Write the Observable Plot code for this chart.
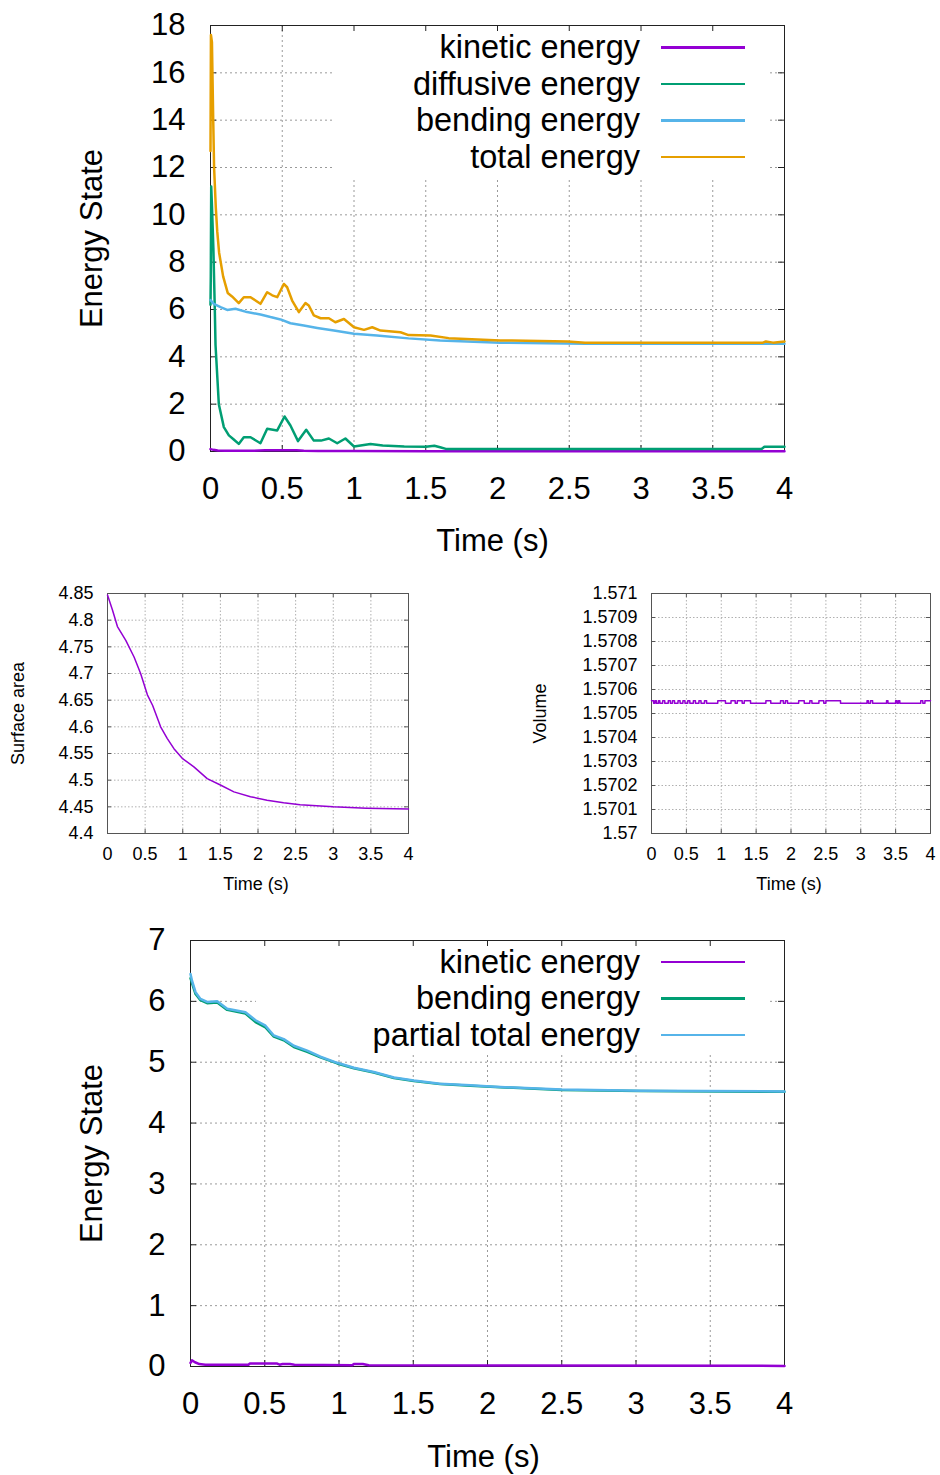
<!DOCTYPE html>
<html><head><meta charset="utf-8">
<script src="https://cdn.jsdelivr.net/npm/d3@7"></script>
<script src="https://cdn.jsdelivr.net/npm/@observablehq/plot@0.6"></script>
<style>
body{margin:0;background:#fff;}
#root{position:relative;width:940px;height:1475px;overflow:hidden;background:#fff;font-family:"Liberation Sans",Arial,sans-serif;}
.layer{position:absolute;}
.legend{position:absolute;background:#fff;}
.lrow{position:absolute;left:0;right:0;display:flex;align-items:center;justify-content:flex-end;color:#000;}
.lrow span.t{position:relative;white-space:nowrap;}
.lrow span.s{display:inline-block;}
</style></head><body><div id="root"></div>
<script>
// ---------- tick labels ----------
const xTicks = [0, 0.5, 1, 1.5, 2, 2.5, 3, 3.5, 4];
const energyTicks = [0, 2, 4, 6, 8, 10, 12, 14, 16, 18];
const energy2Ticks = [0, 1, 2, 3, 4, 5, 6, 7];
const areaTicks = [4.4, 4.45, 4.5, 4.55, 4.6, 4.65, 4.7, 4.75, 4.8, 4.85];
const volumeTicks = [1.57, 1.5701, 1.5702, 1.5703, 1.5704, 1.5705, 1.5706, 1.5707, 1.5708, 1.5709, 1.571];

// ---------- top chart: energies ----------
const kinT = [0, 0.02, 0.05, 0.1, 0.3, 0.38, 0.6, 0.65, 0.75, 1.0, 1.5, 4.0];
const kinE = [0.1, 0.07, 0.04, 0.03, 0.03, 0.05, 0.05, 0.03, 0.02, 0.02, 0.01, 0.01];

const diffT = [0, 0.002, 0.005, 0.01, 0.02, 0.03, 0.035, 0.058, 0.093, 0.128, 0.16, 0.197, 0.232, 0.279, 0.348, 0.395, 0.465, 0.516, 0.557, 0.61, 0.667, 0.72, 0.77, 0.825, 0.883, 0.94, 1.0, 1.115, 1.2, 1.35, 1.5, 1.56, 1.6, 1.64, 3.84, 3.86, 4.0];
const diffE = [6.2, 7.4, 11.2, 10.4, 8.6, 6.0, 4.5, 2.0, 1.03, 0.68, 0.52, 0.32, 0.6, 0.6, 0.35, 0.96, 0.89, 1.48, 1.1, 0.44, 0.92, 0.46, 0.46, 0.55, 0.35, 0.55, 0.21, 0.32, 0.25, 0.21, 0.2, 0.24, 0.18, 0.11, 0.11, 0.2, 0.2];

const bendT = [0, 0.023, 0.07, 0.116, 0.174, 0.255, 0.348, 0.418, 0.488, 0.557, 0.65, 0.744, 0.86, 1.0, 1.16, 1.38, 1.6, 2.02, 2.61, 4.0];
const bendE = [6.4, 6.24, 6.1, 5.98, 6.03, 5.89, 5.79, 5.68, 5.58, 5.42, 5.32, 5.22, 5.11, 4.98, 4.9, 4.78, 4.69, 4.6, 4.55, 4.55];

const totT = [0, 0.003, 0.01, 0.019, 0.025, 0.037, 0.047, 0.06, 0.088, 0.12, 0.15, 0.197, 0.232, 0.279, 0.348, 0.395, 0.43, 0.465, 0.511, 0.534, 0.569, 0.616, 0.662, 0.685, 0.72, 0.767, 0.825, 0.87, 0.93, 1.0, 1.07, 1.127, 1.185, 1.324, 1.38, 1.533, 1.66, 1.86, 2.02, 2.1, 2.49, 2.61, 3.85, 3.87, 3.92, 4.0];
const totE = [12.7, 17.6, 17.3, 14.0, 12.0, 10.3, 9.3, 8.4, 7.4, 6.7, 6.55, 6.27, 6.52, 6.52, 6.24, 6.73, 6.6, 6.52, 7.08, 6.94, 6.38, 5.89, 6.27, 6.17, 5.75, 5.63, 5.63, 5.46, 5.6, 5.25, 5.14, 5.25, 5.11, 5.04, 4.92, 4.9, 4.79, 4.73, 4.69, 4.69, 4.65, 4.6, 4.6, 4.65, 4.6, 4.65];

// ---------- surface area ----------
const areaT = [0, 0.066, 0.132, 0.243, 0.353, 0.44, 0.53, 0.6, 0.706, 0.795, 0.883, 0.993, 1.148, 1.325, 1.5, 1.68, 1.9, 2.12, 2.34, 2.56, 3.0, 3.44, 4.0];
const areaV = [4.847, 4.819, 4.788, 4.762, 4.731, 4.70, 4.66, 4.64, 4.60, 4.578, 4.559, 4.541, 4.525, 4.503, 4.491, 4.478, 4.469, 4.4625, 4.4575, 4.454, 4.45, 4.4475, 4.446];

// ---------- volume ----------
const volT = [0, 0.03, 0.05, 0.07, 0.1, 0.12, 0.16, 0.19, 0.24, 0.27, 0.3, 0.33, 0.38, 0.41, 0.45, 0.48, 0.52, 0.55, 0.6, 0.63, 0.68, 0.71, 0.76, 0.79, 0.95, 1.06, 1.14, 1.2, 1.23, 1.3, 1.33, 1.42, 1.64, 1.71, 1.85, 1.89, 1.92, 1.95, 2.11, 2.19, 2.27, 2.3, 2.4, 2.47, 2.5, 2.71, 3.09, 3.11, 3.14, 3.17, 3.37, 3.39, 3.5, 3.52, 3.54, 3.56, 3.86, 3.89, 3.92, 4.0];
const volV = [1.570553, 1.570543, 1.570553, 1.570543, 1.570553, 1.570543, 1.570553, 1.570543, 1.570553, 1.570543, 1.570553, 1.570543, 1.570553, 1.570543, 1.570553, 1.570543, 1.570553, 1.570543, 1.570553, 1.570543, 1.570553, 1.570543, 1.570553, 1.570543, 1.570553, 1.570543, 1.570553, 1.570543, 1.570553, 1.570543, 1.570553, 1.570543, 1.570553, 1.570543, 1.570553, 1.570543, 1.570553, 1.570543, 1.570553, 1.570543, 1.570553, 1.570543, 1.570553, 1.570543, 1.570553, 1.570543, 1.570553, 1.570543, 1.570553, 1.570543, 1.570553, 1.570543, 1.570553, 1.570543, 1.570553, 1.570543, 1.570553, 1.570543, 1.570553, 1.570553];

// ---------- bottom chart ----------
const kin2T = [0, 0.01, 0.03, 0.06, 0.1, 0.39, 0.4, 0.58, 0.6, 0.62, 0.67, 0.7, 1.09, 1.1, 1.16, 1.2, 4.0];
const kin2E = [0.06, 0.1, 0.07, 0.04, 0.03, 0.03, 0.05, 0.05, 0.03, 0.04, 0.04, 0.03, 0.02, 0.04, 0.04, 0.02, 0.01];

const ptT = [0, 0.01, 0.034, 0.067, 0.112, 0.18, 0.247, 0.37, 0.438, 0.505, 0.561, 0.628, 0.696, 0.786, 0.875, 0.988, 1.1, 1.234, 1.37, 1.504, 1.68, 1.885, 2.02, 2.5, 3.03, 4.0];
const ptE = [6.45, 6.34, 6.15, 6.04, 5.99, 6.0, 5.88, 5.82, 5.69, 5.6, 5.44, 5.38, 5.27, 5.19, 5.09, 4.99, 4.91, 4.84, 4.75, 4.7, 4.645, 4.62, 4.6, 4.55, 4.53, 4.52];
const bend2E = [6.38, 6.3, 6.12, 6.02, 5.97, 5.98, 5.86, 5.8, 5.66, 5.57, 5.42, 5.36, 5.25, 5.17, 5.08, 4.98, 4.9, 4.83, 4.74, 4.69, 4.64, 4.615, 4.595, 4.545, 4.525, 4.515];

const PURPLE = "#9400d3", GREEN = "#009e73", BLUE = "#56b4e9", ORANGE = "#e69f00";
const FONT = "'Liberation Sans', Arial, Helvetica, sans-serif";

function series(t, v) { return t.map((d, i) => ({t: d, v: v[i]})); }

const root = document.getElementById("root");

function panel(c) {
  const innerW = c.width - c.ml - c.mr, innerH = c.height - c.mt - c.mb;
  const style = {background: "transparent", fontFamily: FONT, fontSize: c.fs + "px", color: "#000", overflow: "visible"};
  const base = {width: c.width, height: c.height, marginTop: c.mt, marginRight: c.mr, marginBottom: c.mb, marginLeft: c.ml, style};
  const grid = Plot.plot({...base,
    x: {domain: [0, 4], axis: null}, y: {domain: c.yDomain, axis: null},
    marks: [
      Plot.gridX(xTicks, {stroke: c.gridColor, strokeOpacity: 1, strokeWidth: 1, strokeDasharray: c.dash}),
      Plot.gridY(c.yTicks, {stroke: c.gridColor, strokeOpacity: 1, strokeWidth: 1, strokeDasharray: c.dash})
    ]});
  const main = Plot.plot({...base,
    x: {domain: [0, 4]}, y: {domain: c.yDomain},
    marks: [
      Plot.frame({stroke: c.frameColor, strokeWidth: 1}),
      Plot.tickX(xTicks, {x: d => d, insetTop: innerH - c.tl, stroke: c.frameColor}),
      Plot.tickX(xTicks, {x: d => d, insetBottom: innerH - c.tl, stroke: c.frameColor}),
      Plot.tickY(c.yTicks, {y: d => d, insetRight: innerW - c.tl, stroke: c.frameColor}),
      Plot.tickY(c.yTicks, {y: d => d, insetLeft: innerW - c.tl, stroke: c.frameColor}),
      ...c.lines.map(s => Plot.line(series(s.t, s.v), {x: "t", y: "v", stroke: s.color, strokeWidth: s.w, curve: s.curve || "linear"})),
      Plot.axisX(xTicks, {tickSize: 0, tickPadding: c.tp, fontSize: c.fs, tickFormat: d => String(d), label: null}),
      Plot.axisY(c.yTicks, {tickSize: 0, tickPadding: c.tp, fontSize: c.fs, tickFormat: d => String(d), label: null}),
      Plot.text([c.yLabel], {frameAnchor: "left", rotate: -90, textAnchor: "middle", lineAnchor: "middle", dx: c.ylDx, fontSize: c.fs, fill: "#000"}),
      Plot.text(["Time (s)"], {frameAnchor: "bottom", textAnchor: "middle", lineAnchor: "middle", dx: c.xlDx, dy: c.xlDy, fontSize: c.fs, fill: "#000"})
    ]});
  const gwrap = document.createElement("div");
  gwrap.className = "layer"; gwrap.style.left = c.left + "px"; gwrap.style.top = c.top + "px";
  gwrap.appendChild(grid); root.appendChild(gwrap);
  if (c.legend) {
    const L = c.legend;
    const box = document.createElement("div");
    box.className = "legend";
    Object.assign(box.style, {left: L.left + "px", top: L.top + "px", width: L.width + "px", height: L.height + "px"});
    L.items.forEach((it, i) => {
      const row = document.createElement("div");
      row.className = "lrow";
      const cy = L.firstY + i * L.step - L.top;
      Object.assign(row.style, {top: (cy - 18) + "px", height: "36px", paddingRight: L.padR + "px", fontSize: L.fs + "px", fontFamily: FONT});
      const t = document.createElement("span"); t.className = "t"; t.textContent = it.label;
      t.style.top = "0px"; t.style.lineHeight = L.fs + "px";
      const s = document.createElement("span"); s.className = "s";
      Object.assign(s.style, {width: L.swW + "px", height: "2.5px", background: it.color, marginLeft: L.gap + "px"});
      row.appendChild(t); row.appendChild(s); box.appendChild(row);
    });
    root.appendChild(box);
  }
  const mwrap = document.createElement("div");
  mwrap.className = "layer"; mwrap.style.left = c.left + "px"; mwrap.style.top = c.top + "px";
  mwrap.appendChild(main); root.appendChild(mwrap);
}

// top
panel({left: 0, top: 0, width: 940, height: 560, mt: 25, mr: 156, mb: 109, ml: 210,
  yDomain: [0, 18], yTicks: energyTicks, fs: 31, tp: 25, tl: 6,
  frameColor: "#222", gridColor: "#9a9a9a", dash: "2,3",
  yLabel: "Energy State", ylDx: -118, xlDx: -5, xlDy: 90,
  lines: [
    {t: kinT, v: kinE, color: PURPLE, w: 2.5},
    {t: diffT, v: diffE, color: GREEN, w: 2.5},
    {t: bendT, v: bendE, color: BLUE, w: 2.5},
    {t: totT, v: totE, color: ORANGE, w: 2.5}
  ],
  legend: {left: 333, top: 26, width: 435, height: 151, firstY: 47.7, step: 36.5, padR: 23, swW: 84, gap: 21, fs: 32.5,
    items: [
      {label: "kinetic energy", color: PURPLE},
      {label: "diffusive energy", color: GREEN},
      {label: "bending energy", color: BLUE},
      {label: "total energy", color: ORANGE}
    ]}
});

// middle left
panel({left: 0, top: 560, width: 470, height: 340, mt: 33, mr: 62, mb: 67, ml: 107,
  yDomain: [4.4, 4.85], yTicks: areaTicks, fs: 18, tp: 14, tl: 4,
  frameColor: "#555", gridColor: "#b0b0b0", dash: "1.5,2",
  yLabel: "Surface area", ylDx: -89, xlDx: -2, xlDy: 51,
  lines: [{t: areaT, v: areaV, color: PURPLE, w: 1.5}]
});

// middle right
panel({left: 470, top: 560, width: 470, height: 340, mt: 33, mr: 10, mb: 67, ml: 181,
  yDomain: [1.57, 1.571], yTicks: volumeTicks, fs: 18, tp: 14, tl: 4,
  frameColor: "#555", gridColor: "#b0b0b0", dash: "1.5,2",
  yLabel: "Volume", ylDx: -111, xlDx: -2, xlDy: 51,
  lines: [{t: volT, v: volV, color: PURPLE, w: 1.5, curve: "step-after"}]
});

// bottom
panel({left: 0, top: 900, width: 940, height: 575, mt: 40, mr: 156, mb: 109, ml: 190,
  yDomain: [0, 7], yTicks: energy2Ticks, fs: 31, tp: 25, tl: 6,
  frameColor: "#222", gridColor: "#9a9a9a", dash: "2,3",
  yLabel: "Energy State", ylDx: -98, xlDx: -4, xlDy: 91,
  lines: [
    {t: kin2T, v: kin2E, color: PURPLE, w: 2.5},
    {t: ptT, v: bend2E, color: GREEN, w: 2.5},
    {t: ptT, v: ptE, color: BLUE, w: 2.5}
  ],
  legend: {left: 256, top: 941, width: 514, height: 112, firstY: 962, step: 36.5, padR: 25, swW: 84, gap: 21, fs: 32.5,
    items: [
      {label: "kinetic energy", color: PURPLE},
      {label: "bending energy", color: GREEN},
      {label: "partial total energy", color: BLUE}
    ]}
});
</script></body></html>
